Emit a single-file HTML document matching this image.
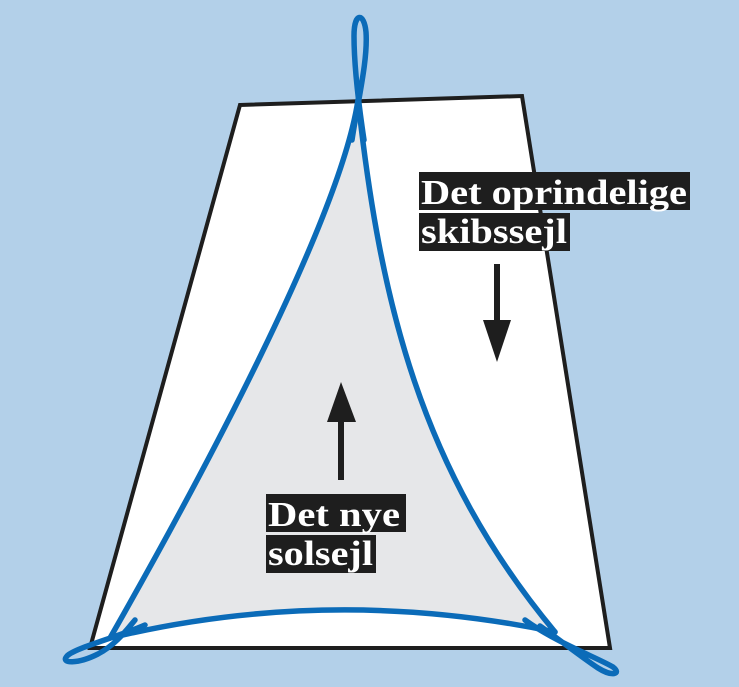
<!DOCTYPE html>
<html><head><style>
html,body{margin:0;padding:0;background:#b3d0e9;}
svg{display:block}
</style></head><body>
<svg width="739" height="687" viewBox="0 0 739 687" xmlns="http://www.w3.org/2000/svg">
<rect width="739" height="687" fill="#b3d0e9"/>
<polygon points="240,105 522,96 610,648 90,648" fill="#fff" stroke="#1e1e1e" stroke-width="4" stroke-linejoin="miter"/>
<path d="M358,100 C380,300 420,470 555,632 Q330,585 110,638 C200,480 340,220 358,100 Z" fill="#e6e7e9"/>
<g fill="none" stroke="#0b6bb8" stroke-width="5.5" stroke-linecap="round">
<path d="M358,100 C380,300 420,470 555,632"/>
<path d="M110,638 C200,480 340,220 358,100"/>
<path d="M110,638 Q330,585 555,632"/>
<path d="M352,140 C358,100 368,60 366,32 C364,12 354,12 354,36 C354,60 358,100 364,140"/>
<path d="M145,625 C115,638 75,648 67,656 C60,664 78,664 98,654 C115,645 125,632 135,620"/>
<path d="M525,620 C555,642 598,658 613,667 C622,674 612,677 598,668 C580,656 560,640 540,626"/>
</g>
<g fill="#1e1e1e">
<rect x="494" y="264" width="6" height="58"/>
<polygon points="483,320 511,320 497,362"/>
<rect x="338" y="420" width="6" height="60"/>
<polygon points="327,422 356,422 341,382"/>
</g>
<g fill="#1e1e1e">
<rect x="419" y="172" width="271" height="38"/>
<rect x="419" y="213" width="151" height="38"/>
<rect x="266" y="494" width="140" height="38"/>
<rect x="266" y="535" width="110" height="38"/>
</g>
<g font-family="Liberation Serif, serif" font-weight="bold" font-size="35" fill="#fff">
<text x="421" y="204" textLength="266" lengthAdjust="spacingAndGlyphs">Det oprindelige</text>
<text x="421" y="243" textLength="146" lengthAdjust="spacingAndGlyphs">skibssejl</text>
<text x="268" y="526" textLength="132" lengthAdjust="spacingAndGlyphs">Det nye</text>
<text x="268" y="565" textLength="105" lengthAdjust="spacingAndGlyphs">solsejl</text>
</g>
</svg>
</body></html>
